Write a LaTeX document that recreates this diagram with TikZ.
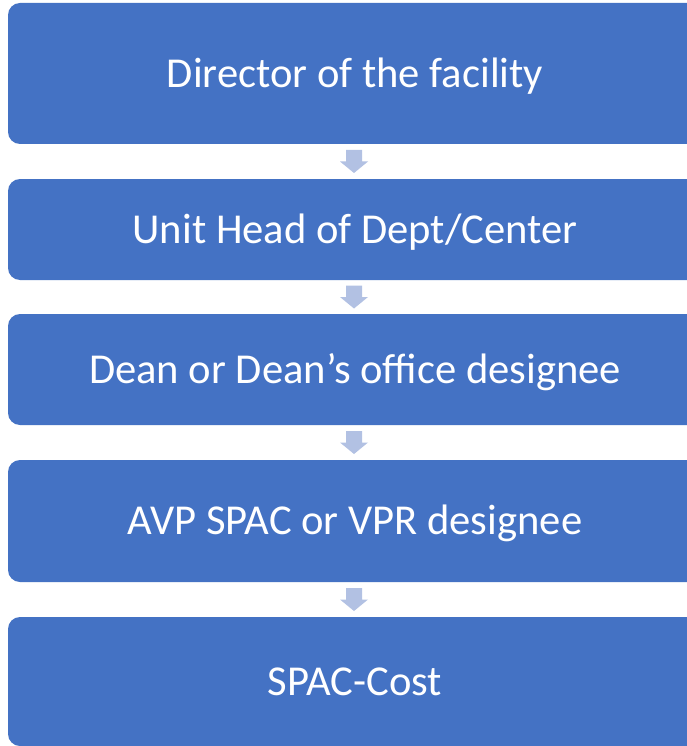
\documentclass[tikz,border=0pt]{standalone}
\usepackage{fontspec}
\setmainfont{Carlito}
\definecolor{boxblue}{HTML}{4472C4}
\definecolor{arrowblue}{HTML}{B2C1E3}
\tikzset{
  box/.style={fill=boxblue, draw=none, rounded corners=12pt, inner sep=0pt,
    minimum width=694pt, text=white, font=\fontsize{42.6}{50}\selectfont,
    text height=27.5pt, text depth=0pt},
  downarrow/.style={fill=arrowblue, draw=none}
}
\begin{document}
\begin{tikzpicture}[x=1pt,y=-1pt]
\useasboundingbox (0,0) rectangle (687,746);
\clip (0,0) rectangle (687,746);
\fill[white] (0,0) rectangle (687,746);
\node[box, minimum height=141pt] (b1) at (355,73.5) {Director of the facility};
\node[box, minimum height=101pt] (b2) at (355,229.5) {Unit Head of Dept/Center};
\node[box, minimum height=111pt] (b3) at (355,369.5) {Dean or Dean’s office designee};
\node[box, minimum height=122pt] (b4) at (355,521) {AVP SPAC or VPR designee};
\node[box, minimum height=129pt] (b5) at (355,681.5) {SPAC-Cost};
\foreach \a/\b/\n in {b1/b2/a1, b2/b3/a2, b3/b4/a3, b4/b5/a4}{
  \path (\a.south) -- (\b.north) coordinate[pos=0.5] (m\n);
  \fill[downarrow] ([shift={(-9,-11.5)}]m\n) -- ([shift={(7,-11.5)}]m\n)
    -- ([shift={(7,0)}]m\n) -- ([shift={(13,0)}]m\n) -- ([shift={(-1,11.5)}]m\n)
    -- ([shift={(-15,0)}]m\n) -- ([shift={(-9,0)}]m\n) -- cycle;
}
\end{tikzpicture}
\end{document}
